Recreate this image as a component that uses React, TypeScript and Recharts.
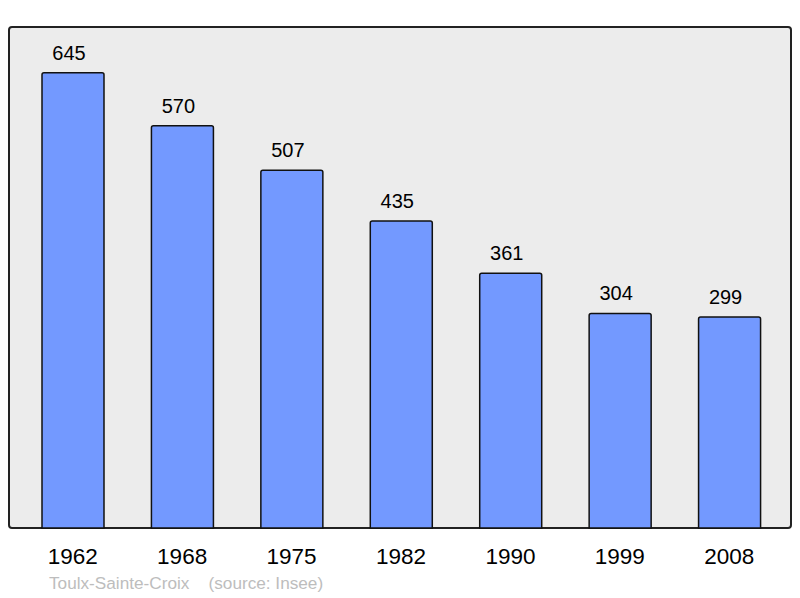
import React from 'react';
import { Bar, BarChart, LabelList, XAxis, YAxis } from 'recharts';

const years = ['1962', '1968', '1975', '1982', '1990', '1999', '2008'];
const population = [645, 570, 507, 435, 361, 304, 299];
const townName = 'Toulx-Sainte-Croix';
const sourceNote = '(source: Insee)';

const data = years.map((year, i) => ({ year, population: population[i] }));

const FONT = '"Liberation Sans", Arial, sans-serif';

export default function App() {
  return (
    <div
      style={{
        position: 'absolute',
        left: 0,
        top: 0,
        width: 800,
        height: 598,
        background: '#fff',
        fontFamily: FONT,
      }}
    >
      {/* cadre arrondi du fond */}
      <div
        style={{
          position: 'absolute',
          left: 8,
          top: 26,
          width: 780,
          height: 499,
          border: '2px solid #222',
          borderRadius: 4,
          background: '#ececec',
        }}
      />
      <div style={{ position: 'absolute', left: 0, top: 0 }}>
        <BarChart
          width={800}
          height={598}
          data={data}
          margin={{ top: 27, right: 9, left: 9, bottom: 40 }}
          barCategoryGap={0}
        >
          <XAxis
            dataKey='year'
            height={30}
            axisLine={false}
            tickLine={false}
            tickMargin={14}
            padding={{ left: 9, right: 7 }}
            tick={{ fontSize: 22.5, fill: '#000', fontFamily: FONT }}
          />
          <YAxis hide domain={[0, 710]} />
          <Bar
            dataKey='population'
            fill='#7399ff'
            stroke='#111'
            strokeWidth={1.5}
            barSize={62}
            radius={[2, 2, 0, 0]}
            isAnimationActive={false}
          >
            <LabelList
              dataKey='population'
              position='top'
              offset={13}
              dx={-4}
              style={{ fontSize: 20, fill: '#000', fontFamily: FONT }}
            />
          </Bar>
        </BarChart>
      </div>
      <div
        style={{
          position: 'absolute',
          left: 49,
          top: 573,
          fontSize: 17.2,
          color: '#bdbdbd',
          whiteSpace: 'pre',
        }}
      >
        {townName + '    ' + sourceNote}
      </div>
    </div>
  );
}
